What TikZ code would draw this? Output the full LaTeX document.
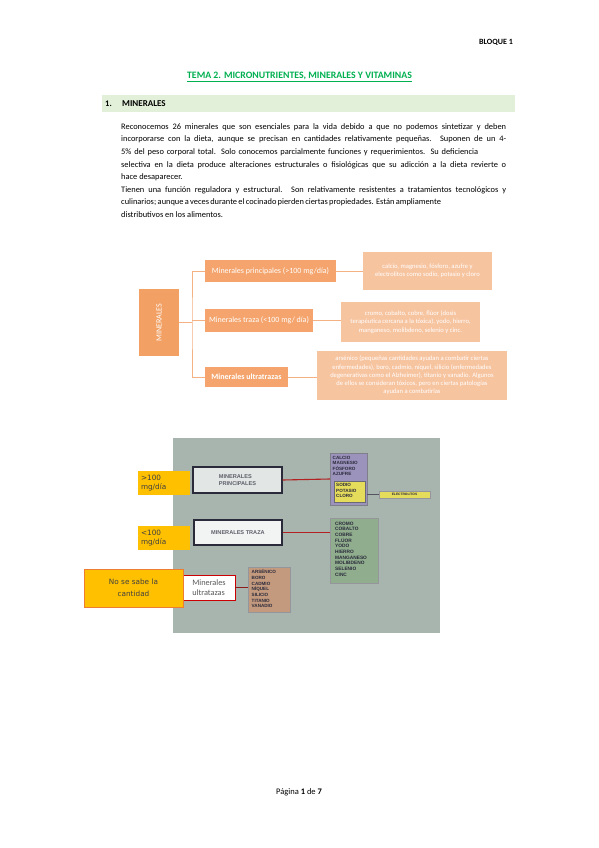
\documentclass[tikz,border=0pt]{standalone}
\usepackage{fontspec}
\setmainfont{Carlito}
\setsansfont{Liberation Sans}
\newfontfamily\labelfont{DejaVu Sans}
\definecolor{oMain}{HTML}{F2A063}
\definecolor{oMid}{HTML}{F4A46C}
\definecolor{oLight}{HTML}{F7C4A0}
\definecolor{oLine}{HTML}{F4B183}
\definecolor{bandGreen}{HTML}{E2EFD9}
\definecolor{titleGreen}{HTML}{00B050}
\definecolor{photoBg}{HTML}{A8B4AE}
\definecolor{photoInk}{HTML}{2A2A3A}
\definecolor{gold}{HTML}{FFC000}
\definecolor{goldEdge}{HTML}{ED7D31}
\definecolor{labelInk}{HTML}{404040}
\definecolor{purpleBox}{HTML}{9C93BD}
\definecolor{yellowBox}{HTML}{E6DC5C}
\definecolor{greenBox}{HTML}{90AE8E}
\definecolor{brownBox}{HTML}{C49A7E}
\definecolor{redLine}{HTML}{B22222}
\tikzset{
  mbox/.style={fill=oMid, draw=none, text=white, inner sep=0pt, font=\fontsize{8}{9}\selectfont},
  lbox/.style={fill=oLight, draw=none, text=white, inner sep=0pt, align=center, font=\fontsize{6.6}{8.3}\selectfont},
  conn/.style={draw=oLine, line width=0.8pt},
  para/.style={anchor=base west, inner sep=0pt, font=\fontsize{8.4}{9}\selectfont},
  pbox/.style={fill=black!5!photoBg!30!white, draw=photoInk, line width=1.3pt, inner sep=0pt, align=left, text=photoInk!75, font=\sffamily\bfseries\fontsize{5.6}{6.4}\selectfont},
  plist/.style={anchor=north west, inner sep=0pt, align=left, text=photoInk, font=\sffamily\bfseries\fontsize{4.6}{5.4}\selectfont},
  gbox/.style={fill=gold, draw=none, inner sep=0pt, text=labelInk, font=\labelfont\fontsize{7.3}{9.5}\selectfont},
  redconn/.style={draw=redLine, line width=1.1pt}
}
\begin{document}
\begin{tikzpicture}[x=1pt,y=-1pt]
\useasboundingbox (0,0) rectangle (599,848);
\fill[white] (0,0) rectangle (599,848);

% header
\node[font=\bfseries\fontsize{8}{9}\selectfont, inner sep=0pt] (bloque) at (496,42) {BLOQUE 1};
\node[font=\bfseries\fontsize{9.8}{11}\selectfont, text=titleGreen, inner sep=0pt] (title) at (299.5,77) {\underline{TEMA 2. MICRONUTRIENTES, MINERALES Y VITAMINAS}};
\node[fill=bandGreen, minimum width=413pt, minimum height=17pt, inner sep=0pt] (band) at (308.5,103.5) {};
\node[font=\bfseries\fontsize{8.5}{9}\selectfont, anchor=west, inner sep=0pt] (hnum) at (105,103.5) {1.};
\node[font=\bfseries\fontsize{9}{10}\selectfont, anchor=west, inner sep=0pt] (htxt) at (122,103.5) {MINERALES};

% paragraph
\node[para] (l1) at (121,129.5) {\makebox[385pt][s]{Reconocemos 26 minerales que son esenciales para la vida debido a que no podemos sintetizar y deben}};
\node[para] (l2) at (121,142) {\makebox[385pt][s]{incorporarse con la dieta, aunque se precisan en cantidades relativamente pequeñas. Suponen de un 4-}};
\node[para] (l3) at (121,154.5) {\makebox[357pt][s]{5\% del peso corporal total. Solo conocemos parcialmente funciones y requerimientos. Su deficiencia}};
\node[para] (l4) at (121,167) {\makebox[385pt][s]{selectiva en la dieta produce alteraciones estructurales o fisiológicas que su adicción a la dieta revierte o}};
\node[para] (l5) at (121,179.5) {hace desaparecer.};
\node[para] (l6) at (121,192) {\makebox[385pt][s]{Tienen una función reguladora y estructural. Son relativamente resistentes a tratamientos tecnológicos y}};
\node[para] (l7) at (121,204.5) {\makebox[317pt][s]{culinarios; aunque a veces durante el cocinado pierden ciertas propiedades. Están ampliamente}};
\node[para] (l8) at (121,217) {distributivos en los alimentos.};

% orange diagram
\node[fill=oMain, text=white, rotate=90, minimum width=67pt, minimum height=40pt, inner sep=0pt, font=\fontsize{8}{9}\selectfont] (min) at (159,322.5) {MINERALES};
\node[mbox, minimum width=131pt, minimum height=22pt] (p1) at (270.5,271) {Minerales principales (>100 mg/día)};
\node[mbox, minimum width=108pt, minimum height=23pt] (p2) at (259,320.5) {Minerales traza (<100 mg/ día)};
\node[mbox, minimum width=83pt, minimum height=20pt, font=\bfseries\fontsize{8}{9}\selectfont] (p3) at (246.5,377) {Minerales ultratrazas};
\node[lbox, minimum width=129pt, minimum height=38pt] (r1) at (427.5,271) {calcio, magnesio, fósforo, azufre y\\electrolitos como sodio, potasio y cloro};
\node[lbox, minimum width=139pt, minimum height=40pt] (r2) at (410.5,322) {cromo, cobalto, cobre, flúor (dosis\\terapéutica cercana a la tóxica), yodo, hierro,\\manganeso, molibdeno, selenio y cinc.};
\node[lbox, minimum width=190pt, minimum height=49pt] (r3) at (412,375.5) {arsénico (pequeñas cantidades ayudan a combatir ciertas\\enfermedades), boro, cadmio, níquel, silicio (enfermedades\\degenerativas como el Alzheimer), titanio y vanadio. Algunos\\de ellos se consideran tóxicos, pero en ciertas patologías\\ayudan a combatirlas};
\coordinate (j) at (192,322.5);
\draw[conn] (min.south) -- (j);
\draw[conn] (p1.west) -| (j) |- (p3.west);
\draw[conn] (p2.west) -- (p2.west -| j);
\draw[conn] (p1.east) -- (r1.west);
\draw[conn] (p2.east) -- (p2.east -| r2.west);
\draw[conn] (p3.east) -- (p3.east -| r3.west);

% photo diagram
\node[fill=photoBg, minimum width=267pt, minimum height=195pt, inner sep=0pt] (photo) at (306.5,535.5) {};
\node[pbox, minimum width=89pt, minimum height=26pt] (mp) at (237.5,480) {MINERALES\\PRINCIPALES};
\node[pbox, minimum width=88pt, minimum height=25pt, fill=white!85!photoBg] (mt) at (238,532.5) {MINERALES TRAZA};
\node[fill=purpleBox, draw=photoInk!60, line width=0.4pt, minimum width=37pt, minimum height=52pt, inner sep=0pt] (pur) at (348.5,479) {};
\node[plist] (purtxt) at (332.5,456) {CALCIO\\MAGNESIO\\FÓSFORO\\AZUFRE};
\node[fill=yellowBox, draw=photoInk!70, line width=0.4pt, minimum width=31pt, minimum height=21pt, inner sep=0pt] (yel) at (349.5,491.5) {};
\node[plist] (yeltxt) at (336,483.5) {SODIO\\POTASIO\\CLORO};
\node[fill=yellowBox, draw=photoInk!50, line width=0.3pt, minimum width=51pt, minimum height=7pt, inner sep=0pt, text=photoInk, font=\sffamily\bfseries\fontsize{3.3}{4}\selectfont] (elec) at (404.5,494.5) {ELECTROLITOS};
\node[fill=greenBox, draw=photoInk!50, line width=0.4pt, minimum width=48pt, minimum height=65pt, inner sep=0pt] (grn) at (354,550.5) {};
\node[plist, font=\sffamily\bfseries\fontsize{4.8}{5.7}\selectfont] (grntxt) at (335,521.5) {CROMO\\COBALTO\\COBRE\\FLÚOR\\YODO\\HIERRO\\MANGANESO\\MOLIBDENO\\SELENIO\\CINC};
\node[fill=white, draw=red!80!black, line width=0.9pt, minimum width=52pt, minimum height=25pt, inner sep=0pt, align=left, text=black!65, font=\fontsize{8.3}{9.5}\selectfont] (mu) at (209,587.5) {Minerales\\ultratazas};
\node[fill=brownBox, draw=photoInk!50, line width=0.4pt, minimum width=42pt, minimum height=45pt, inner sep=0pt] (brn) at (269,589.5) {};
\node[plist, font=\sffamily\bfseries\fontsize{4.6}{5.7}\selectfont] (brntxt) at (251.5,569.5) {ARSÉNICO\\BORO\\CADMIO\\NÍQUEL\\SILICIO\\TITANIO\\VANADIO};
\draw[redconn] (mp.east) -- (pur.west);
\draw[redconn] (mt.east) -- (mt.east -| grn.west);
\draw[redconn, draw=redLine!80!black] (mu.east) -- (mu.east -| brn.west);
\draw[draw=photoInk!80, line width=0.9pt] (elec.west -| pur.east) -- (elec.west);

% gold labels
\node[gbox, minimum width=52pt, minimum height=24pt, align=left] (g1) at (164,483) {\makebox[46pt][l]{>100}\\\makebox[46pt][l]{mg/día}};
\node[gbox, minimum width=52pt, minimum height=24pt, align=left] (g2) at (164,538) {\makebox[46pt][l]{<100}\\\makebox[46pt][l]{mg/día}};
\node[gbox, draw=goldEdge, line width=0.9pt, minimum width=99pt, minimum height=38pt, align=center, font=\labelfont\fontsize{7.3}{12}\selectfont] (g3) at (133.5,588) {No se sabe la\\cantidad};

% footer
\node[font=\fontsize{8.5}{9}\selectfont, inner sep=0pt] (foot) at (299,792) {Página \textbf{1} de \textbf{7}};
\end{tikzpicture}
\end{document}
